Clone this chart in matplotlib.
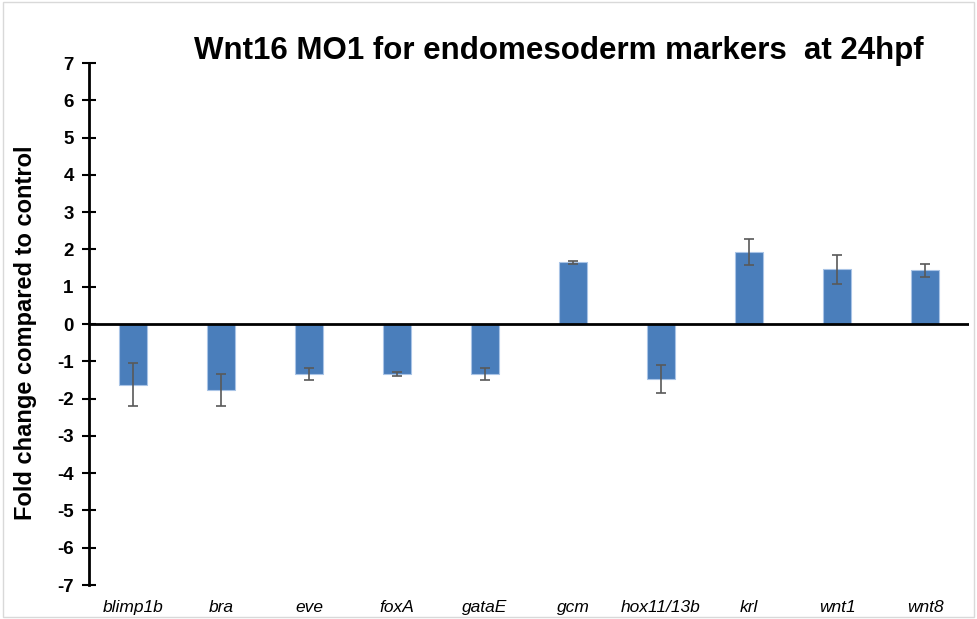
import matplotlib.pyplot as plt
import matplotlib.patches as patches

plt.rcParams['font.family'] = ['Liberation Sans', 'DejaVu Sans']

# data
genes = ['blimp1b', 'bra', 'eve', 'foxA', 'gataE', 'gcm', 'hox11/13b', 'krl', 'wnt1', 'wnt8']
fold_change = [-1.63, -1.77, -1.34, -1.34, -1.34, 1.65, -1.48, 1.93, 1.47, 1.44]
errors = [0.58, 0.44, 0.16, 0.05, 0.16, 0.05, 0.37, 0.36, 0.39, 0.18]
yticks = list(range(-7, 8))

fig = plt.figure(figsize=(9.77, 6.19), dpi=100)
ax = fig.add_axes([0.0911, 0.0549, 0.9007, 0.8433])

x = list(range(len(genes)))
ax.bar(x, fold_change, width=0.31, color='#4a7ebb', edgecolor='#a9c4e6', linewidth=0.8, zorder=2)
ax.errorbar(x, fold_change, yerr=errors, fmt='none', ecolor='#595959',
            elinewidth=1.2, capsize=3.5, capthick=1.2, zorder=3)

ax.axhline(0, color='black', linewidth=2, zorder=4)

ax.set_xlim(-0.5, len(genes) - 0.5)
ax.set_ylim(-7, 7)
ax.set_yticks(yticks)
ax.set_yticklabels([str(t) for t in yticks], fontsize=13.5, fontweight='bold')
ax.set_xticks(x)
ax.set_xticklabels(genes, fontsize=12.5, style='italic')
ax.tick_params(axis='x', length=0, pad=11)
ax.tick_params(axis='y', direction='inout', length=10, width=1.5, pad=6)

for s in ['top', 'right', 'bottom']:
    ax.spines[s].set_visible(False)
ax.spines['left'].set_linewidth(2)

ax.set_ylabel('Fold change compared to control', fontsize=17, fontweight='bold')
ax.yaxis.set_label_coords(-0.059, 0.483)
fig.text(0.572, 0.918, 'Wnt16 MO1 for endomesoderm markers  at 24hpf', fontsize=22.5,
         fontweight='bold', ha='center', va='center')

# light border around the chart area
fig.patches.append(patches.Rectangle((0.003, 0.003), 0.994, 0.994, transform=fig.transFigure,
                                     fill=False, edgecolor='#d9d9d9', linewidth=1))

plt.savefig('out.png', dpi=100)
